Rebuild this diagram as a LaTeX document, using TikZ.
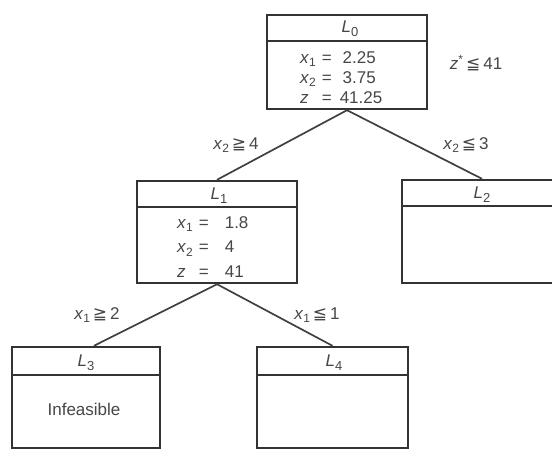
\documentclass[tikz,border=0pt]{standalone}
\usepackage{fontspec}
\setmainfont{Liberation Sans}
\newfontfamily\symf{DejaVu Sans}
\newcommand\vx[2]{\textit{#1}\raisebox{-0.4ex}{\fontsize{12}{14}\selectfont #2}}
\newcommand\LL[1]{\textit{L}\raisebox{-0.45ex}{\fontsize{13}{15}\selectfont #1}}
\newcommand\mygeq{{\symf ≧}}
\newcommand\myleq{{\symf ≦}}
\begin{document}
\begin{tikzpicture}[x=1pt,y=-1pt,
  box/.style={draw=black!80, line width=2.4pt, rectangle, inner sep=0pt},
  edge/.style={draw=black!75, line width=1.7pt},
  txt/.style={text=black!72, font=\fontsize{17}{20}\selectfont, inner sep=0pt},
  lbl/.style={txt}]
\useasboundingbox (0,0) rectangle (552,450);
\clip (0,0) rectangle (552,450);
\fill[white] (0,0) rectangle (552,450);

% boxes
\node[box, minimum width=160pt, minimum height=94pt] (L0) at (347,62) {};
\node[box, minimum width=160pt, minimum height=102pt] (L1) at (217,232) {};
\node[box, minimum width=160pt, minimum height=103pt] (L2) at (482,231.5) {};
\node[box, minimum width=148pt, minimum height=101pt] (L3) at (86,397.5) {};
\node[box, minimum width=151pt, minimum height=101pt] (L4) at (332.5,397.5) {};

% header lines
\foreach \n/\d in {L0/27,L1/27,L2/27,L3/29,L4/29}
  \draw[draw=black!80, line width=1.8pt] ([yshift=-\d pt]\n.north west) -- ([yshift=-\d pt]\n.north east);

% headers
\node[txt] (h0) at (350,29) {\LL{0}};
\node[txt] (h1) at (219,196) {\LL{1}};
\node[txt] (h2) at (482,195) {\LL{2}};
\node[txt] (h3) at (86,363) {\LL{3}};
\node[txt] (h4) at (334,363) {\LL{4}};

% contents
\node[txt, anchor=north west] (c0) at (300,49) {%
  \renewcommand\arraystretch{1.0}\begin{tabular}{@{}l@{\hspace{6pt}}c@{\hspace{8pt}}l@{}}
  \vx{x}{1} & = & \,2.25\\ \vx{x}{2} & = & \,3.75\\ \textit{z} & = & 41.25\end{tabular}};
\node[txt, anchor=north west] (c1) at (177,211) {%
  \renewcommand\arraystretch{1.22}\begin{tabular}{@{}l@{\hspace{6pt}}c@{\hspace{16pt}}l@{}}
  \vx{x}{1} & = & 1.8\\ \vx{x}{2} & = & 4\\ \textit{z} & = & 41\end{tabular}};
\node[txt] (c3) at (84,409) {Infeasible};

% edges
\draw[edge] (L0.south) -- (L1.north);
\draw[edge] (L0.south) -- (L2.north);
\draw[edge] (L1.south) -- ([xshift=8pt]L3.north);
\draw[edge] (L1.south) -- (L4.north);

% labels
\node[lbl] (e01) at (236,145) {\vx{x}{2}\,\mygeq\,4};
\node[lbl] (e02) at (466,145) {\vx{x}{2}\,\myleq\,3};
\node[lbl] (e13) at (97,315) {\vx{x}{1}\,\mygeq\,2};
\node[lbl] (e14) at (317,315) {\vx{x}{1}\,\myleq\,1};
\node[lbl] (zs) at (476,63) {\textit{z}\textsuperscript{*}\,\myleq\,41};
\end{tikzpicture}
\end{document}
